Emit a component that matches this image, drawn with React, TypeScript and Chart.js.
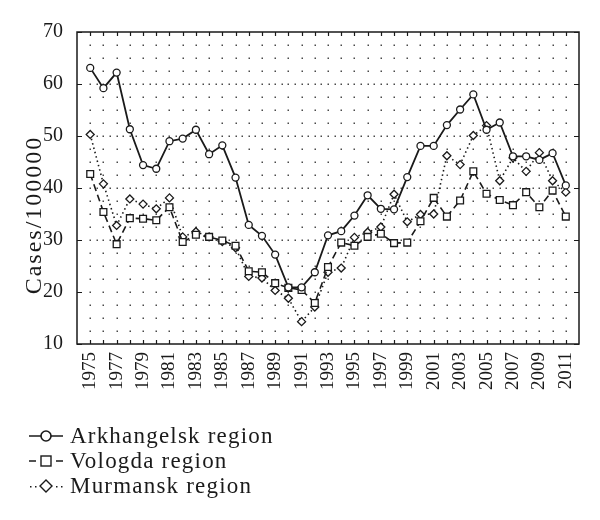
import React, { useEffect, useRef } from "react";
import { Chart, registerables } from "chart.js";

Chart.register(...registerables);

const years = [
  1975, 1976, 1977, 1978, 1979, 1980, 1981, 1982, 1983, 1984, 1985, 1986,
  1987, 1988, 1989, 1990, 1991, 1992, 1993, 1994, 1995, 1996, 1997, 1998,
  1999, 2000, 2001, 2002, 2003, 2004, 2005, 2006, 2007, 2008, 2009, 2010, 2011,
];
const arkhangelsk = [
  63.1, 59.2, 62.2, 51.3, 44.4, 43.7, 49.0, 49.5, 51.2, 46.5, 48.2, 42.0,
  32.9, 30.8, 27.2, 20.9, 20.9, 23.8, 30.9, 31.7, 34.7, 38.6, 36.0, 35.9,
  42.1, 48.1, 48.1, 52.1, 55.1, 58.0, 51.2, 52.6, 46.1, 46.1, 45.4, 46.7, 40.5,
];
const vologda = [
  42.7, 35.4, 29.2, 34.2, 34.1, 33.8, 36.3, 29.6, 31.0, 30.6, 29.9, 28.9,
  24.0, 23.8, 21.7, 20.8, 20.4, 17.9, 24.8, 29.5, 28.9, 30.6, 31.2, 29.4,
  29.5, 33.6, 38.1, 34.5, 37.6, 43.2, 38.9, 37.7, 36.7, 39.2, 36.3, 39.5, 34.5,
];
const murmansk = [
  50.3, 40.8, 32.8, 37.9, 36.9, 36.0, 38.1, 30.6, 31.6, 30.6, 29.7, 28.5,
  23.0, 22.7, 20.3, 18.8, 14.3, 17.1, 23.8, 24.6, 30.5, 31.5, 32.5, 38.8,
  33.5, 34.9, 35.0, 46.2, 44.5, 50.1, 52.0, 41.4, 45.8, 43.2, 46.8, 41.4, 39.2,
];
const xTickYears = [
  1975, 1977, 1979, 1981, 1983, 1985, 1987, 1989, 1991, 1993, 1995, 1997,
  1999, 2001, 2003, 2005, 2007, 2009, 2011,
];
const yTickValues = [10, 20, 30, 40, 50, 60, 70];
const seriesNames = ["Arkhangelsk region", "Vologda region", "Murmansk region"];
const yTitle = "Cases/100000";

const FONT = "'Liberation Serif', 'Times New Roman', serif";
const INK = "#1a1a1a";

const toPoints = (vals: number[]) => years.map((yr, i) => ({ x: yr, y: vals[i] }));

const framePlugin = {
  id: "frame",
  beforeDatasetsDraw(chart: any) {
    const { ctx, scales } = chart;
    const x = scales.x;
    const y = scales.y;
    ctx.save();
    ctx.fillStyle = "#4a4a4a";
    for (let v = 12.5; v < 70; v += 2.5) {
      const py = Math.round(y.getPixelForValue(v));
      const dense = v % 10 === 0 && v >= 30 && v <= 60;
      const step = dense ? 0.5 : 1;
      for (let yr = years[0]; yr <= years[years.length - 1] + 0.01; yr += step) {
        const px = Math.round(x.getPixelForValue(yr));
        ctx.fillRect(px - 0.5, py - 0.5, 1.5, 1.5);
      }
    }
    ctx.restore();
  },
  afterDatasetsDraw(chart: any) {
    const { ctx, chartArea: a, scales } = chart;
    const x = scales.x;
    const y = scales.y;
    ctx.save();
    ctx.strokeStyle = INK;
    ctx.lineWidth = 1.5;
    ctx.strokeRect(a.left, a.top, a.right - a.left, a.bottom - a.top);
    ctx.lineWidth = 1.2;
    ctx.beginPath();
    for (const yr of years) {
      const px = Math.round(x.getPixelForValue(yr)) + 0.5;
      ctx.moveTo(px, a.top);
      ctx.lineTo(px, a.top + 4);
      ctx.moveTo(px, a.bottom);
      ctx.lineTo(px, a.bottom - 4);
    }
    for (const v of yTickValues) {
      const py = Math.round(y.getPixelForValue(v)) + 0.5;
      ctx.moveTo(a.left, py);
      ctx.lineTo(a.left + 5, py);
      ctx.moveTo(a.right, py);
      ctx.lineTo(a.right - 5, py);
    }
    ctx.stroke();
    ctx.restore();
  },
  afterDraw(chart: any) {
    const { ctx } = chart;
    ctx.save();
    // y-axis title
    ctx.translate(35, 215);
    ctx.rotate(-Math.PI / 2);
    ctx.font = `24px ${FONT}`;
    ctx.fillStyle = INK;
    ctx.textAlign = "center";
    ctx.textBaseline = "middle";
    try {
      (ctx as any).letterSpacing = "2px";
    } catch (e) {}
    ctx.fillText(yTitle, 0, 0);
    ctx.restore();

    // legend
    const rows = [436, 461, 486];
    ctx.save();
    ctx.strokeStyle = INK;
    ctx.fillStyle = INK;
    ctx.font = `23px ${FONT}`;
    try {
      (ctx as any).letterSpacing = "1.2px";
    } catch (e) {}
    ctx.textBaseline = "middle";
    ctx.textAlign = "left";
    rows.forEach((ry, i) => {
      const cx = 46;
      ctx.lineWidth = 1.6;
      ctx.beginPath();
      if (i === 0) {
        ctx.moveTo(29, ry);
        ctx.lineTo(63, ry);
        ctx.stroke();
        ctx.beginPath();
        ctx.arc(cx, ry, 5, 0, Math.PI * 2);
        ctx.fillStyle = "#fff";
        ctx.fill();
        ctx.stroke();
      } else if (i === 1) {
        ctx.moveTo(29, ry);
        ctx.lineTo(36, ry);
        ctx.moveTo(56, ry);
        ctx.lineTo(63, ry);
        ctx.stroke();
        ctx.lineWidth = 1.4;
        ctx.strokeRect(cx - 5, ry - 5, 10, 10);
      } else {
        ctx.fillStyle = INK;
        for (const dx of [30, 35, 56, 61]) ctx.fillRect(dx, ry, 1.5, 1.5);
        ctx.lineWidth = 1.4;
        ctx.beginPath();
        ctx.moveTo(cx, ry - 6);
        ctx.lineTo(cx + 6, ry);
        ctx.lineTo(cx, ry + 6);
        ctx.lineTo(cx - 6, ry);
        ctx.closePath();
        ctx.stroke();
      }
      ctx.fillStyle = INK;
      ctx.fillText(seriesNames[i], 70, ry + 1);
    });
    ctx.restore();
  },
};

export default function App() {
  const canvasRef = useRef<HTMLCanvasElement | null>(null);

  useEffect(() => {
    const canvas = canvasRef.current;
    if (!canvas) return;
    const chart = new Chart(canvas, {
      type: "line",
      data: {
        datasets: [
          {
            label: seriesNames[0],
            data: toPoints(arkhangelsk),
            borderColor: INK,
            borderWidth: 1.8,
            pointStyle: "circle",
            pointRadius: 3.5,
            pointBorderWidth: 1.3,
            pointBorderColor: INK,
            pointBackgroundColor: "#fff",
            tension: 0,
          },
          {
            label: seriesNames[1],
            data: toPoints(vologda),
            borderColor: INK,
            borderWidth: 1.6,
            borderDash: [7, 4],
            pointStyle: "rect",
            pointRadius: 4.8,
            pointBorderWidth: 1.3,
            pointBorderColor: INK,
            pointBackgroundColor: "#fff",
            tension: 0,
          },
          {
            label: seriesNames[2],
            data: toPoints(murmansk),
            borderColor: INK,
            borderWidth: 1.6,
            borderDash: [1.5, 3],
            pointStyle: "rectRot",
            pointRadius: 4,
            pointBorderWidth: 1.3,
            pointBorderColor: INK,
            pointBackgroundColor: "#fff",
            tension: 0,
          },
        ],
      },
      options: {
        responsive: false,
        animation: false,
        devicePixelRatio: 1,
        layout: { padding: { top: 32, right: 21, left: 0, bottom: 0 } },
        plugins: {
          legend: { display: false },
          tooltip: { enabled: false },
        },
        scales: {
          x: {
            type: "linear",
            min: 1974,
            max: 2012,
            afterBuildTicks: (s: any) => {
              s.ticks = xTickYears.map((v) => ({ value: v }));
            },
            afterFit: (s: any) => {
              s.height = 176;
            },
            grid: { display: false, drawTicks: false },
            border: { display: false },
            ticks: {
              autoSkip: false,
              minRotation: 90,
              maxRotation: 90,
              padding: 8,
              color: INK,
              font: { family: FONT, size: 19 },
              callback: (v: any) => String(v),
            },
          },
          y: {
            type: "linear",
            min: 10,
            max: 70,
            afterBuildTicks: (s: any) => {
              s.ticks = yTickValues.map((v) => ({ value: v }));
            },
            afterFit: (s: any) => {
              s.width = 77;
            },
            grid: { display: false, drawTicks: false },
            border: { display: false },
            ticks: {
              padding: 14,
              color: INK,
              font: { family: FONT, size: 20 },
              callback: (v: any) => String(v),
            },
          },
        },
      },
      plugins: [framePlugin],
    } as any);
    return () => chart.destroy();
  }, []);

  return (
    <div style={{ position: "absolute", left: 0, top: 0, width: 600, height: 520, background: "#fff" }}>
      <canvas ref={canvasRef} width={600} height={520} style={{ display: "block" }} />
    </div>
  );
}
